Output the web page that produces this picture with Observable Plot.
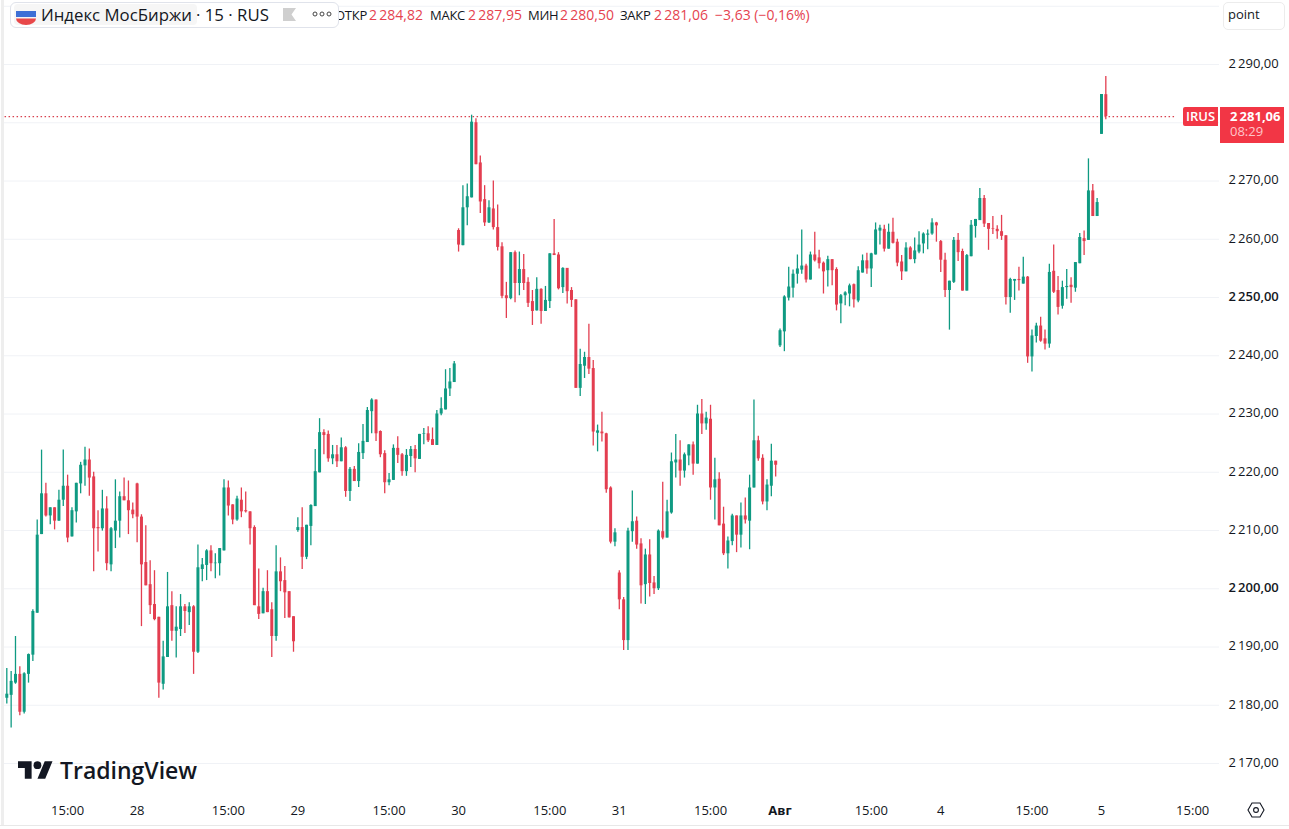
<!DOCTYPE html>
<html lang="ru">
<head>
<meta charset="utf-8">
<title>Индекс МосБиржи</title>
<script src="https://cdn.jsdelivr.net/npm/d3@7"></script>
<script src="https://cdn.jsdelivr.net/npm/@observablehq/plot@0.6"></script>
<style>
html,body{margin:0;padding:0;background:#fff;overflow:hidden}
#wrap{position:relative;width:1289px;height:829px;font-family:"Open Sans","Noto Sans",sans-serif;color:#131722}
#wrap svg.plot{display:block}
.ov{position:absolute;white-space:nowrap}
</style>
</head>
<body>
<div id="wrap"></div>
<script>
const highs = [
2186.3,2185.8,2191.8,2186.6,2185.6,2188.8,2196.4,2211.8,2223.8,2218.1,
2213.9,2213.9,2216.9,2223.8,2219.5,2213.9,2218.1,2221.7,2224.3,2224,
2220,2213.4,2216.9,2215.8,2210.5,2218.7,2216.6,2219,2218.5,2214.7,
2218.1,2212.7,2210.8,2204.8,2203.1,2195.1,2191,2202.8,2199.5,2196.9,
2199,2197.3,2197.6,2197.1,2207.5,2205.2,2206.7,2207.4,2206,2206.9,
2218.7,2218.5,2214.4,2215.9,2217.3,2216.6,2213.2,2210.8,2203.4,2200.1,
2203.1,2197.6,2207.4,2205.3,2203.8,2199.5,2195.2,2212.2,2213.9,2210.9,
2214.4,2223.9,2229.2,2227.3,2227.1,2224.6,2224.6,2225.9,2224.4,2220.8,
2221,2224.9,2228.2,2231.1,2232.6,2232.4,2227.1,2223.7,2219.8,2224.7,
2226.1,2223.2,2223.9,2224.4,2224.6,2226.5,2227.5,2227.8,2227.6,2230.6,
2232.8,2237.6,2237.8,2239,2261.8,2269.2,2269.5,2281.3,2280.7,2274.3,
2269.2,2266.6,2270,2265.9,2259.4,2252.6,2257.7,2258,2257.8,2257.4,
2253.4,2251.2,2253.4,2251.5,2251.9,2257.5,2263.4,2257.7,2255.1,2255,
2251.7,2249.6,2241.1,2240.6,2245.4,2239.2,2228.1,2230.3,2226.7,2217.5,
2210.3,2203.1,2198.5,2210.4,2216.8,2212.3,2208.6,2206.8,2208.4,2202.1,
2210.1,2218.3,2215.2,2223.3,2226.5,2225.4,2223.3,2224.7,2225.2,2231.5,
2232.5,2230.3,2231.5,2222.4,2219.9,2214,2208.9,2212.8,2212.5,2214.7,
2215.6,2219.5,2232.4,2226.2,2223,2218.7,2224.8,2221.9,2244.6,2250.3,
2255.2,2254.7,2257.3,2261.6,2255.7,2257.8,2261.2,2258.1,2256.1,2257.1,
2256.5,2255.1,2250.5,2251,2252.3,2252.3,2255.3,2257.3,2257.6,2257.6,
2262.8,2262.4,2262.4,2262.6,2263.6,2260,2257.2,2259.4,2258.7,2260.2,
2261.3,2261.1,2261.6,2263.5,2262.9,2259.8,2257.6,2252.8,2260.3,2261,
2258.3,2257.4,2263.2,2263.4,2268.7,2267.5,2262.7,2263.9,2262.3,2264.1,
2260.6,2253.3,2253.1,2255.2,2256.9,2253.6,2244.4,2245.6,2246.6,2244.4,
2255.7,2259,2253.6,2252.8,2254.8,2253.4,2256,2261,2261.4,2273.8,
2269.4,2267,2284.85,2287.95];
const lows = [
2180.2,2176.1,2183.6,2178.2,2178.5,2183.8,2187.5,2195.8,2209.3,2212.3,
2211,2210.1,2211.6,2214.1,2207.9,2208.9,2211.3,2216.3,2217.6,2215.9,
2202.9,2206.3,2209.9,2203.1,2202.9,2206.9,2208.7,2215.1,2209.3,2212,
2207.9,2193.5,2200.5,2195.6,2194.5,2181.2,2182.6,2188.2,2191,2188.1,
2191.8,2192.3,2193.7,2185.3,2188.9,2201.2,2201.4,2202.9,2201.7,2202.2,
2206.5,2212.5,2211,2211.6,2212.2,2213,2207.5,2197.1,2194.7,2195.7,
2195.9,2188.2,2191,2199.5,2194.9,2195,2189.1,2209.7,2203.3,2205,
2207.4,2214.1,2219.9,2223,2221.7,2221.3,2220.8,2221.8,2215.7,2215,
2218.4,2217.4,2222.2,2225.1,2226.6,2225.3,2222.5,2216.3,2217.7,2218.6,
2221.5,2219.3,2219.3,2220.8,2219.9,2222.2,2224.7,2225.1,2224.6,2224.6,
2229.7,2230.7,2233,2235.4,2257.8,2258.9,2262.3,2267.1,2272.8,2264.4,
2262.2,2262.7,2261.6,2258,2249.8,2246.4,2249.6,2249.1,2250.3,2251.2,
2248.3,2245.2,2247.7,2245.4,2247.6,2248.1,2257.2,2251.3,2250.7,2248.9,
2248.3,2234.4,2233,2236.1,2236.8,2224.5,2223.5,2225.2,2216.4,2207.7,
2207.2,2196.4,2189.4,2189.4,2208,2206.8,2197.4,2197.3,2198.6,2199,
2199.7,2208.4,2208.7,2212.8,2219,2217.6,2219,2221.1,2219.5,2221.4,
2226.5,2227.2,2215.2,2211.8,2210.8,2205.7,2203.4,2207.4,2206.2,2207,
2211.1,2206.7,2217.3,2221.9,2214.4,2213.4,2215.8,2219.2,2241.4,2240.7,
2249.4,2249.9,2252.3,2254,2252.5,2253,2256.1,2254.9,2250.6,2251.8,
2252,2247.7,2245.5,2248.6,2248.4,2248.2,2249.1,2254.2,2254,2251.7,
2257.3,2259,2257.8,2258.3,2259.2,2255.3,2252.9,2254.4,2256.5,2255.8,
2257.5,2257.5,2258.2,2260.7,2259.5,2254.3,2250,2244.4,2252.4,2256.2,
2251.1,2251.1,2257,2260.2,2263.2,2262,2258.1,2260.8,2260,2259.8,
2248.7,2247.3,2249.5,2251.1,2252.3,2238.7,2237.2,2242.2,2242.3,2241,
2241.3,2250.7,2247,2248,2249.7,2249,2250.9,2255.8,2257.2,2259.8,
2263.9,2263.9,2278,2280.5];
const opens = [
2181.2,2181.7,2183.8,2185.3,2178.8,2185.3,2188.6,2195.8,2209.3,2216.3,
2212.5,2213.9,2211.6,2215.2,2217.6,2208.9,2213.2,2218,2221.1,2222.1,
2219.2,2210.5,2210.3,2213.7,2204.1,2209.9,2211.6,2215.8,2215.1,2213.5,
2218,2212.3,2204.5,2200.7,2197.3,2195.1,2183.6,2188.2,2197.1,2192.7,
2193,2196.9,2195.9,2196.9,2189.1,2203.3,2204,2206.5,2204.3,2204.3,
2206.5,2217.3,2214.4,2211.8,2215.2,2213.4,2213.2,2210.5,2196.9,2195.7,
2199.5,2196.4,2191.8,2202.9,2201.4,2199.5,2195.2,2210,2210.5,2205.4,
2210.7,2214.1,2219.9,2226.8,2226.5,2222.3,2223,2221.8,2224.2,2216.7,
2220.5,2218.4,2223.2,2225.1,2230.4,2232.4,2227,2223.2,2218.2,2218.6,
2224.1,2223,2220.1,2222.7,2223.9,2222.2,2226.5,2226.6,2225.6,2224.6,
2230,2230.7,2234.3,2235.4,2261.5,2258.9,2265.4,2267.1,2280,2273.1,
2266.8,2262.8,2265.2,2262,2258.7,2250.3,2249.8,2257.7,2252.4,2254.8,
2252.6,2249.3,2247.7,2251.4,2247.6,2249.3,2257.5,2257.3,2251.7,2255,
2251.2,2249.6,2234.4,2238.2,2239.7,2237.8,2226.7,2226.9,2226.6,2217.3,
2208,2202.7,2198.1,2191.1,2209.8,2211.6,2207.7,2200.7,2205.8,2201,
2200,2209.8,2208.7,2213,2221.6,2222.1,2220.2,2222.8,2224.7,2221.4,
2230,2228.3,2229.1,2217.3,2218.8,2211.1,2206,2208.1,2212.5,2209.2,
2212.5,2211.6,2217.3,2225.4,2222.4,2214.9,2217.6,2221.9,2241.7,2244.1,
2249.9,2251.6,2254,2254.7,2255.4,2253,2257.3,2256.8,2255.9,2254.6,
2256.5,2254.8,2248.9,2250.3,2250.6,2252.2,2249.4,2254.2,2256.3,2254.9,
2257.3,2261.4,2261.7,2258.3,2261.2,2259.5,2256.1,2254.4,2258.5,2256.5,
2257.8,2259.2,2260.7,2260.9,2262.8,2259.6,2256.4,2251.2,2252.6,2259.8,
2257.9,2251.1,2257,2262.2,2263.2,2267,2262.7,2261.8,2261.7,2261.3,
2260.6,2250,2252.8,2253.1,2252.3,2253.5,2239.8,2243.3,2245.1,2242.9,
2242,2254.5,2251.2,2248.5,2251.7,2252.1,2251.6,2255.8,2260.1,2259.8,
2268.3,2263.9,2278,2284.82];
const closes = [
2181.9,2184.1,2185.3,2178.8,2185.4,2188.7,2196.1,2209.2,2216.3,2212.5,
2213.9,2211.6,2215.2,2217.6,2208.7,2213.4,2218.1,2221.2,2222.1,2219,
2210.3,2210.3,2213.7,2204.3,2210.3,2211.6,2215.8,2215.1,2213.4,2212.7,
2212.3,2204.1,2200.5,2197.1,2194.7,2183.8,2188.3,2196.9,2192.7,2193.4,
2196.9,2196.1,2196.9,2189.1,2203.6,2204.1,2206.5,2204.3,2204.4,2206.9,
2217.3,2214.2,2211.8,2215.4,2213.2,2213.2,2210.3,2197.1,2195.6,2199.5,
2195.9,2191.8,2202.9,2201.2,2199.3,2195,2190.9,2210.5,2205.4,2210.9,
2214.3,2220.1,2226.8,2226.3,2222.3,2223,2221.8,2224.2,2216.7,2220.5,
2218.4,2223.4,2225.3,2230.6,2232.4,2226.6,2223,2218.2,2218.7,2224.1,
2222.9,2220.1,2222.9,2223.9,2222.3,2226.5,2226.6,2225.4,2224.6,2230,
2230.9,2234.3,2235.5,2238.6,2259,2265.4,2267.3,2280.1,2272.8,2266.4,
2262.8,2265.4,2262,2258.6,2250.2,2249.8,2257.7,2252.4,2254.8,2252.4,
2249,2247.6,2251.4,2247.6,2249.5,2257.5,2257.2,2251.5,2255,2251,
2249.5,2234.4,2238.5,2239.7,2237.7,2226.9,2227.1,2226.6,2217,2208,
2209.6,2198.1,2191.1,2209.9,2211.5,2207.5,2200.5,2205.8,2200.9,2200,
2209.9,2208.7,2213.2,2221.8,2222.1,2220.2,2223,2224.7,2221.4,2230,
2228.3,2229.3,2217.3,2218.7,2210.8,2206,2208.2,2212.5,2209.2,2212.5,
2211.8,2217.3,2225.4,2222.3,2214.9,2217.8,2221.9,2221.2,2244.3,2250.1,
2251.8,2254,2254.9,2255.4,2253,2257.3,2256.3,2255.8,2254.4,2256.5,
2254.6,2248.7,2250.3,2250.8,2252,2249.6,2254.6,2256.3,2254.9,2257.5,
2261.6,2261.9,2258.3,2261.2,2259.3,2255.9,2254.4,2258.5,2256.5,2258,
2259,2260.9,2260.9,2262.8,2262.3,2256.4,2251.2,2252.8,2259.8,2257.7,
2251.1,2257.2,2262.4,2263.4,2267,2262.6,2261.7,2261.7,2261.3,2260.5,
2250,2253.1,2253.1,2252.9,2253.5,2239.8,2243.4,2245.1,2242.5,2242,
2254.3,2250.9,2248.3,2251.7,2251.9,2251.7,2256,2260.3,2259.6,2268.3,
2263.9,2266.3,2284.85,2281.06];

const lastPrice = 2281.06;
const gridPrices = [2170,2180,2190,2200,2210,2220,2230,2240,2250,2260,2270,2280,2290,2300];
const labelPrices = [2170,2180,2190,2210,2220,2230,2240,2260,2270,2290];
const boldPrices = [2200,2250];
const timeTicks = [14,30,51,67,88,104,125,141,162,199,215,236,252,273];
const timeLabels = ["15:00","28","15:00","29","15:00","30","15:00","31","15:00","15:00","4","15:00","5","15:00"];
const boldTimeTicks = [178];
const boldTimeLabels = ["Авг"];

const UP = "#0f9a82", DOWN = "#e33e50";
const bars = opens.map((o, i) => ({i, o, c: closes[i], h: highs[i], l: lows[i]}));
const priceFmt = d => String(d)[0] + "\u2009" + String(d).slice(1) + ",00";
const yAxisOpts = {anchor: "right", tickSize: 0, tickPadding: 0, dx: 9, dy: -0.8, label: null, tickFormat: priceFmt, fontSize: 13, fill: "#131722"};
const xAxisOpts = {anchor: "bottom", tickSize: 0, tickPadding: 0, label: null, fontSize: 13, fill: "#131722"};

const chart = Plot.plot({
  width: 1289, height: 829,
  marginLeft: 4, marginRight: 70, marginTop: 0, marginBottom: 24,
  style: {fontFamily: '"Open Sans","Noto Sans",sans-serif', background: "#fff"},
  x: {domain: [0, 273], range: [6.3, 1192.2]},
  y: {domain: [2170, 2290], range: [763, 64]},
  marks: [
    Plot.gridY(gridPrices, {stroke: "#f0f2f6", strokeOpacity: 1}),
    Plot.axisY(labelPrices, yAxisOpts),
    Plot.axisY(boldPrices, {...yAxisOpts, fontWeight: 600}),
    Plot.axisX(timeTicks, {...xAxisOpts, tickFormat: d => timeLabels[timeTicks.indexOf(d)]}),
    Plot.axisX(boldTimeTicks, {...xAxisOpts, fontWeight: 700, tickFormat: d => boldTimeLabels[boldTimeTicks.indexOf(d)]}),
    Plot.ruleY([lastPrice], {x1: -0.4, x2: 269, stroke: "#d8404e", strokeWidth: 1.2, strokeDasharray: "1.5 2.5"}),
    Plot.ruleX(bars, {x: "i", y1: "l", y2: "h", stroke: d => d.c >= d.o ? UP : DOWN, strokeWidth: 1.3}),
    Plot.ruleX(bars, {x: "i", y1: "o", y2: "c", stroke: d => d.c >= d.o ? UP : DOWN, strokeWidth: 3})
  ]
});

const wrap = document.getElementById("wrap");
wrap.appendChild(chart);

function ov(html, css) {
  const el = document.createElement("div");
  el.className = "ov";
  el.style.cssText = css;
  el.innerHTML = html;
  wrap.appendChild(el);
  return el;
}
// page edges
ov("", "left:1px;top:0;width:3px;height:826px;background:#eeeeee");
ov("", "left:0;top:825px;width:1289px;height:1px;background:#e8e8e8");

// OHLC legend: label text is tighter than the values
const legendLabels = [["ОТКР", 335], ["МАКС", 430], ["МИН", 528], ["ЗАКР", 620]];
const legendValues = [["2\u2009284,82", 369], ["2\u2009287,95", 468], ["2\u2009280,50", 560], ["2\u2009281,06", 654], ["−3,63 (−0,16%)", 715]];
legendLabels.forEach(([t, x]) => ov(t, `left:${x}px;top:5px;font-size:13px;letter-spacing:-0.25px;line-height:20px;color:#131722`));
legendValues.forEach(([t, x]) => ov(t, `left:${x}px;top:5px;font-size:14px;line-height:20px;color:#e5434f`));

// symbol pill
ov("", "left:10px;top:2px;width:327px;height:24px;background:#fff;border:1px solid #e0e3eb;border-radius:6px");
ov("", "left:14px;top:4px;width:183px;height:21px;background:#f6f6f6;border-radius:4px");
ov('<svg width="20" height="15" viewBox="0 0 20 15"><path d="M0 1h20v6H0z" fill="#3d6fd6"/><path d="M0 7h20v1.5H0z" fill="#f4f4f4"/><path d="M0 8.500h20a10 6.500 0 0 1-20 0z" fill="#e8484a"/></svg>', "left:16px;top:10px;line-height:0");
ov("Индекс МосБиржи", "left:41px;top:3px;font-size:16.800px;line-height:24px;color:#131722");
ov("· 15 · RUS", "left:196px;top:3px;font-size:16.800px;line-height:24px;color:#131722");
ov('<svg width="13" height="13" viewBox="0 0 13 13"><path d="M0 0h13L8.500 6.500 13 13H0z" fill="#cfcfcf"/></svg>', "left:283px;top:8px;line-height:0");
ov('<svg width="20" height="6" viewBox="0 0 20 6"><g fill="none" stroke="#444" stroke-width="1"><circle cx="3" cy="3" r="2"/><circle cx="10" cy="3" r="2"/><circle cx="17" cy="3" r="2"/></g></svg>', "left:312px;top:11px;line-height:0");

// point box
ov("point", "left:1223px;top:2px;width:56px;height:26px;padding-left:4px;background:#fff;border:1px solid #ececec;border-radius:5px;font-size:13px;line-height:23px;color:#131722");

// price tags
ov("IRUS", "left:1183px;top:107px;width:35px;height:19px;background:#f23645;border-radius:2px 0 0 2px;color:#fff;font-size:13px;line-height:19px;font-weight:600;text-align:center");
ov("", "left:1220px;top:107px;width:64px;height:36px;background:#f23645");
ov("2\u2009281,06", "left:1230px;top:108px;color:#fff;font-size:13px;line-height:16px;font-weight:700");
ov("08:29", "left:1230px;top:124px;color:#ffc4c9;font-size:13px;line-height:15px");

// logo
ov('<svg width="35" height="18" viewBox="0 4 36 18"><path d="M14 22H7V11H0V4h14v18zM28 22h-8l7.500-18h8L28 22z" fill="#131722"/><circle cx="20" cy="8" r="4" fill="#131722"/></svg>', "left:18px;top:761px;line-height:0");
ov("TradingView", "left:60px;top:754px;font-size:23px;line-height:32px;font-weight:600;color:#131722");

// settings icon
ov('<svg width="18" height="16" viewBox="0 0 18 16"><path d="M5 1h8l4 7-4 7H5L1 8z" fill="none" stroke="#131722" stroke-width="1.1"/><circle cx="9" cy="8" r="2.400" fill="none" stroke="#131722" stroke-width="1.1"/></svg>', "left:1247px;top:802px;line-height:0");
</script>
</body>
</html>
